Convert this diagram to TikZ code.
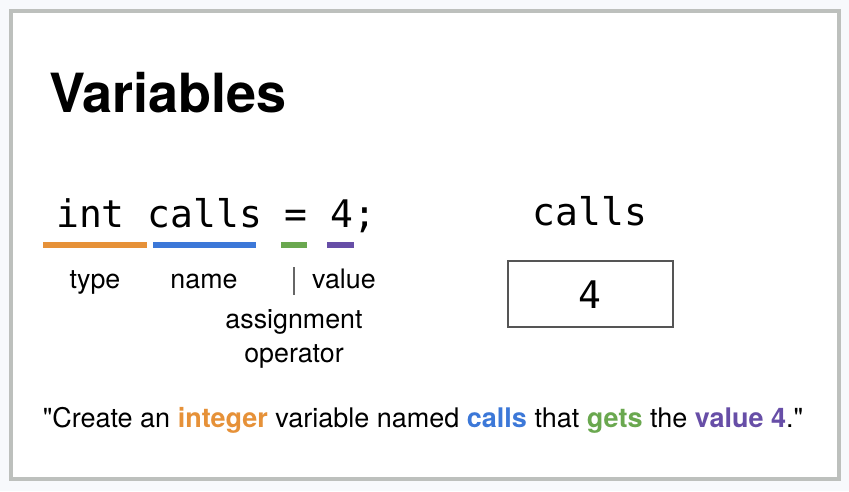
\documentclass[tikz,border=0pt]{standalone}
\usepackage{fontspec}
\setmainfont{TeX Gyre Heros}
\setmonofont{DejaVu Sans Mono}
\usepackage{tikz}
\usetikzlibrary{positioning, calc}
\usepackage{xcolor}
\definecolor{varorange}{HTML}{E69138}
\definecolor{varblue}{HTML}{3C78D8}
\definecolor{vargreen}{HTML}{6AA84F}
\definecolor{varpurple}{HTML}{674EA7}
\definecolor{varframe}{HTML}{BDC0BD}
\definecolor{varpage}{HTML}{F7F9FC}
\definecolor{varbox}{HTML}{555555}

\begin{document}
\begin{tikzpicture}[
    x=1pt, y=-1pt,
    title/.style={inner sep=0pt, anchor=base west,
                  font=\fontsize{54}{60}\selectfont\bfseries},
    code/.style={inner sep=0pt, font=\fontsize{38}{42}\selectfont\ttfamily},
    lbl/.style={inner sep=0pt, anchor=base, font=\fontsize{26.8}{30}\selectfont},
    uline/.style={line width=6pt},
    cell/.style={draw=varbox, line width=2pt, minimum width=165pt,
                 minimum height=66pt, inner sep=0pt}
  ]
    % page and frame
    \fill[varpage] (0,0) rectangle (849,491);
    \draw[varframe, fill=white, line width=4pt] (11,11) rectangle (839,479);
    \useasboundingbox (0,0) rectangle (849,491);

    \node[title] (ttl) at (49,112) {Variables};

    % the statement and its parts
    \node[code, anchor=base west] (stmt) at (56,227) {int calls = 4;};
    \draw[uline, varorange] (43,245) -- (147,245);
    \draw[uline, varblue] (153,245) -- (256,245);
    \draw[uline, vargreen] (281,245) -- (307,245);
    \draw[uline, varpurple] (327,245) -- (354,245);

    \node[lbl] (type) at (95,288) {type};
    \node[lbl] (name) at (204,288) {name};
    \node[lbl, anchor=base west] (value) at (312,288) {value};
    \draw[black!60, line width=1.5pt] (294,267) -- (294,295);
    \node[lbl] (assign) at (294,328) {assignment};
    \node[lbl] (oper) at (294,362) {operator};

    % the variable in memory
    \node[code, anchor=base] (var) at (590,225) {calls};
    \node[cell] (box) at (590.5,294) {};
    \node[code, anchor=base] (val) at (590,308) {4};

    \node[lbl, anchor=base, font=\fontsize{27}{30}\selectfont] (say) at (423,427)
      {\textquotedbl Create an \textcolor{varorange}{\textbf{integer}} variable named
       \textcolor{varblue}{\textbf{calls}} that \textcolor{vargreen}{\textbf{gets}}
       the \textcolor{varpurple}{\textbf{value 4}}.\textquotedbl};
  \end{tikzpicture}
\end{document}
